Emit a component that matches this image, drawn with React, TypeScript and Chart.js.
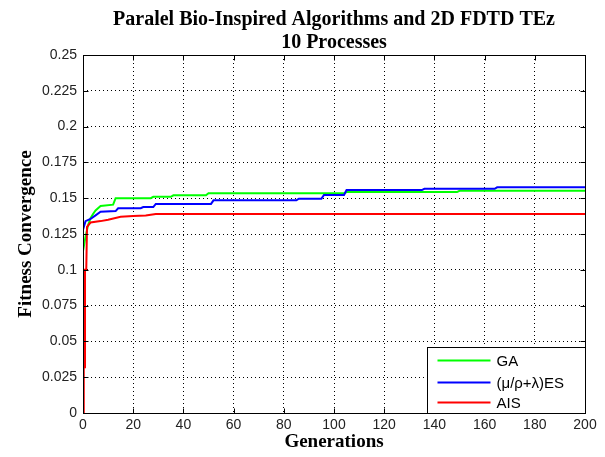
import React, { useEffect, useRef } from 'react';
import { Chart, registerables } from 'chart.js';

Chart.register(...registerables);

const titleLines = ['Paralel Bio-Inspired Algorithms and 2D FDTD TEz', '10 Processes'];
const xTitle = 'Generations';
const yTitle = 'Fitness Convergence';

const seriesLabels = ['GA', '(\u03bc/\u03c1+\u03bb)ES', 'AIS'];
const seriesColors = ['#00ff00', '#0000ff', '#ff0000'];

const gaGen = [0, 1, 2, 3, 4, 5, 7, 12, 13, 27, 28, 35, 36, 49, 50, 104, 105, 149, 150, 200];
const gaFit = [0.113, 0.123, 0.131, 0.136, 0.139, 0.1415, 0.1445, 0.1455, 0.15, 0.15, 0.151, 0.151, 0.152, 0.152, 0.1534, 0.1534, 0.1543, 0.1543, 0.1552, 0.1552];

const esGen = [0, 0, 1, 3, 5, 7, 13, 14, 23, 24, 28, 29, 51, 52, 85, 86, 95, 96, 104, 105, 135, 136, 164, 165, 200];
const esFit = [0.107, 0.128, 0.134, 0.1355, 0.138, 0.1405, 0.141, 0.143, 0.143, 0.1438, 0.1438, 0.146, 0.146, 0.1485, 0.1485, 0.1497, 0.1497, 0.1522, 0.1522, 0.1557, 0.1557, 0.1566, 0.1566, 0.1576, 0.1576];

const aisGen = [0, 0.3, 0.3, 0.8, 0.8, 1.3, 1.6, 3, 7, 10, 15, 20, 25, 29, 200];
const aisFit = [0, 0, 0.032, 0.032, 0.1, 0.1, 0.13, 0.133, 0.134, 0.135, 0.137, 0.1375, 0.138, 0.139, 0.139];

const xTicks = [0, 20, 40, 60, 80, 100, 120, 140, 160, 180, 200];
const xTickLabels = ['0', '20', '40', '60', '80', '100', '120', '140', '160', '180', '200'];
const yTicks = [0, 0.025, 0.05, 0.075, 0.1, 0.125, 0.15, 0.175, 0.2, 0.225, 0.25];
const yTickLabels = ['0', '0.025', '0.05', '0.075', '0.1', '0.125', '0.15', '0.175', '0.2', '0.225', '0.25'];

const toPoints = (xs: number[], ys: number[]) => xs.map((x, i) => ({ x, y: ys[i] }));

const framePlugin = {
  id: 'matlabFrame',
  afterDraw(chart: any) {
    const { ctx, chartArea: a, scales } = chart;
    const L = Math.round(a.left) + 0.5;
    const R = Math.round(a.right) + 0.5;
    const T = Math.round(a.top) + 0.5;
    const B = Math.round(a.bottom) + 0.5;
    ctx.save();
    ctx.strokeStyle = '#000';
    ctx.lineWidth = 1;
    ctx.setLineDash([]);
    ctx.beginPath();
    ctx.rect(L, T, R - L, B - T);
    ctx.stroke();
    const tl = 5;
    ctx.beginPath();
    scales.x.ticks.forEach((t: any) => {
      const px = Math.round(scales.x.getPixelForValue(t.value)) + 0.5;
      ctx.moveTo(px, B); ctx.lineTo(px, B - tl);
      ctx.moveTo(px, T); ctx.lineTo(px, T + tl);
    });
    scales.y.ticks.forEach((t: any) => {
      const py = Math.round(scales.y.getPixelForValue(t.value)) + 0.5;
      ctx.moveTo(L, py); ctx.lineTo(L + tl, py);
      ctx.moveTo(R, py); ctx.lineTo(R - tl, py);
    });
    ctx.stroke();

    // legend box
    const w = 158, h = 66;
    const lx = R - w, ly = B - h;
    ctx.fillStyle = '#fff';
    ctx.fillRect(lx, ly, w, h);
    ctx.strokeRect(lx, ly, w, h);
    const rowY = [13, 35, 55];
    ctx.font = '15px "Liberation Sans", Arial, sans-serif';
    ctx.textBaseline = 'middle';
    ctx.textAlign = 'left';
    seriesLabels.forEach((lab, i) => {
      const y = ly + rowY[i];
      ctx.strokeStyle = seriesColors[i];
      ctx.lineWidth = 2;
      ctx.beginPath();
      ctx.moveTo(lx + 10, y);
      ctx.lineTo(lx + 63, y);
      ctx.stroke();
      ctx.fillStyle = '#000';
      ctx.fillText(lab, lx + 69, y + 1);
    });
    ctx.restore();
  },
};

export default function App() {
  const ref = useRef<HTMLCanvasElement | null>(null);
  useEffect(() => {
    document.body.style.margin = '0';
    const canvas = ref.current;
    if (!canvas) return;
    const tickFont = { family: '"Liberation Sans", Arial, sans-serif', size: 14 };
    const labelFont = { family: '"Liberation Serif", "Times New Roman", serif', size: 19, weight: 'bold' as const };
    const chart = new Chart(canvas, {
      type: 'line',
      data: {
        datasets: [
          { label: seriesLabels[0], data: toPoints(gaGen, gaFit), borderColor: seriesColors[0], order: 3 },
          { label: seriesLabels[1], data: toPoints(esGen, esFit), borderColor: seriesColors[1], order: 2 },
          { label: seriesLabels[2], data: toPoints(aisGen, aisFit), borderColor: seriesColors[2], order: 1 },
        ],
      },
      options: {
        animation: false,
        responsive: false,
        devicePixelRatio: 1,
        layout: { padding: { top: 0, right: 20, left: 0, bottom: 0 } },
        elements: {
          line: { borderWidth: 2, tension: 0, fill: false },
          point: { radius: 0, hoverRadius: 0 },
        },
        plugins: {
          legend: { display: false },
          tooltip: { enabled: false },
          title: {
            display: true,
            fullSize: false,
            text: titleLines,
            color: '#000',
            font: { family: '"Liberation Serif", "Times New Roman", serif', size: 20, weight: 'bold', lineHeight: 1.15 },
            padding: { top: 8, bottom: 1 },
          },
        },
        scales: {
          x: {
            type: 'linear',
            min: 0,
            max: 200,
            afterBuildTicks: (s: any) => { s.ticks = xTicks.map((v) => ({ value: v })); },
            afterFit: (s: any) => { s.height = 44; },
            ticks: {
              autoSkip: false,
              maxRotation: 0,
              padding: 4,
              color: '#222',
              font: tickFont,
              callback: (_v: any, i: number) => xTickLabels[i],
            },
            grid: { color: '#000', lineWidth: 1, drawTicks: false },
            border: { display: false, dash: [1, 3] },
            title: { display: true, text: xTitle, color: '#000', font: labelFont, padding: { top: 0, bottom: 4 } },
          },
          y: {
            type: 'linear',
            min: 0,
            max: 0.25,
            afterBuildTicks: (s: any) => { s.ticks = yTicks.map((v) => ({ value: v })); },
            afterFit: (s: any) => { s.width = 83; },
            ticks: {
              autoSkip: false,
              padding: 6,
              color: '#222',
              font: tickFont,
              callback: (_v: any, i: number) => yTickLabels[i],
            },
            grid: { color: '#000', lineWidth: 1, drawTicks: false },
            border: { display: false, dash: [1, 3] },
            title: { display: true, text: yTitle, color: '#000', font: labelFont, padding: { top: 15, bottom: 0 } },
          },
        },
      },
      plugins: [framePlugin],
    });
    return () => chart.destroy();
  }, []);
  return <canvas ref={ref} width={605} height={457} style={{ display: 'block' }} />;
}
